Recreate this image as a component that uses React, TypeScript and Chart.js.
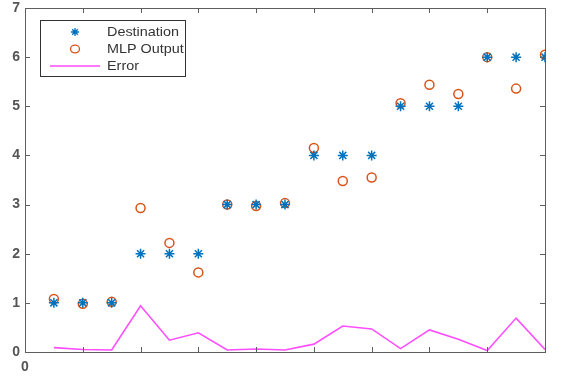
import React, { useEffect, useRef } from "react";
import { Chart, registerables } from "chart.js";

Chart.register(...registerables);

const xValues = [1, 2, 3, 4, 5, 6, 7, 8, 9, 10, 11, 12, 13, 14, 15, 16, 17, 18];
const destination = [1, 1, 1, 2, 2, 2, 3, 3, 3, 4, 4, 4, 5, 5, 5, 6, 6, 6];
const mlpOutput = [1.08, 0.98, 1.02, 2.93, 2.22, 1.62, 3.0, 2.97, 3.03, 4.15, 3.48, 3.55, 5.06, 5.44, 5.25, 6.0, 5.36, 6.05];
const errorValues = [0.09, 0.05, 0.04, 0.94, 0.24, 0.39, 0.04, 0.06, 0.04, 0.16, 0.53, 0.47, 0.07, 0.45, 0.26, 0.03, 0.69, 0.05];
const yTicks = [0, 1, 2, 3, 4, 5, 6, 7];
const xTicks = [0, 2, 4, 6, 8, 10, 12, 14, 16, 18];
const seriesLabels = ["Destination", "MLP Output", "Error"];

const AXIS_COLOR = "#5e5e5e";
const TEXT_COLOR = "#333333";
const TICK_COLOR = "#555555";
const FONT = "Liberation Sans, Arial, sans-serif";

const boxPlugin = {
  id: "matlabBox",
  afterDatasetsDraw(chart: any) {
    const { ctx, chartArea } = chart;
    const xs = chart.scales.x;
    const ys = chart.scales.y;
    ctx.save();
    ctx.strokeStyle = AXIS_COLOR;
    ctx.lineWidth = 1;
    ctx.strokeRect(chartArea.left + 0.5, chartArea.top + 0.5, chartArea.right - chartArea.left, chartArea.bottom - chartArea.top);
    const tl = 5;
    ctx.beginPath();
    xTicks.forEach((v) => {
      const px = Math.round(xs.getPixelForValue(v)) + 0.5;
      ctx.moveTo(px, chartArea.bottom);
      ctx.lineTo(px, chartArea.bottom - tl);
      ctx.moveTo(px, chartArea.top);
      ctx.lineTo(px, chartArea.top + tl);
    });
    yTicks.forEach((v) => {
      const py = Math.round(ys.getPixelForValue(v)) + 0.5;
      ctx.moveTo(chartArea.left, py);
      ctx.lineTo(chartArea.left + tl, py);
      ctx.moveTo(chartArea.right, py);
      ctx.lineTo(chartArea.right - tl, py);
    });
    ctx.stroke();

    // legend
    const bx = 40.5, by = 20.5, bw = 145, bh = 56;
    ctx.fillStyle = "#ffffff";
    ctx.fillRect(bx, by, bw, bh);
    ctx.save();
    ctx.beginPath();
    ctx.rect(bx, by, bw, bh);
    ctx.clip();
    ctx.font = "12px " + FONT;
    ctx.textBaseline = "middle";
    const rows = [32, 49, 66];
    chart.data.datasets.forEach((ds: any, i: number) => {
      const y = rows[i];
      const mx = 75;
      if (i === 0) {
        ctx.strokeStyle = ds.borderColor;
        ctx.lineWidth = 1.3;
        const r = 4;
        ctx.beginPath();
        for (let k = 0; k < 4; k++) {
          const a = (k * Math.PI) / 4;
          ctx.moveTo(mx - r * Math.cos(a), y - r * Math.sin(a));
          ctx.lineTo(mx + r * Math.cos(a), y + r * Math.sin(a));
        }
        ctx.stroke();
      } else if (i === 1) {
        ctx.strokeStyle = ds.borderColor;
        ctx.lineWidth = 1.3;
        ctx.beginPath();
        ctx.ellipse(mx, y, 4.5, 3.8, 0, 0, Math.PI * 2);
        ctx.stroke();
      } else {
        ctx.strokeStyle = ds.borderColor;
        ctx.lineWidth = 1.3;
        ctx.beginPath();
        ctx.moveTo(50, y);
        ctx.lineTo(100, y);
        ctx.stroke();
      }
      ctx.save();
      ctx.translate(107, y + 0.5);
      ctx.scale(1.2, 1);
      ctx.fillStyle = TEXT_COLOR;
      ctx.fillText(ds.label, 0, 0);
      ctx.restore();
    });
    ctx.restore();
    ctx.strokeStyle = "#333333";
    ctx.lineWidth = 1;
    ctx.strokeRect(bx, by, bw, bh);
    ctx.restore();
  },
};

export default function App() {
  const ref = useRef<HTMLCanvasElement | null>(null);
  useEffect(() => {
    document.body.style.margin = "0";
    const canvas = ref.current;
    if (!canvas) return;
    const mk = (arr: number[]) => arr.map((y, i) => ({ x: xValues[i], y }));
    const chart = new Chart(canvas, {
      type: "scatter",
      data: {
        datasets: [
          {
            label: seriesLabels[0],
            data: mk(destination),
            pointStyle: "star",
            pointRadius: 5,
            borderColor: "#0072BD",
            backgroundColor: "#0072BD",
            borderWidth: 1.5,
            showLine: false,
          },
          {
            label: seriesLabels[1],
            data: mk(mlpOutput),
            pointStyle: "circle",
            pointRadius: 4.5,
            borderColor: "#D95319",
            backgroundColor: "rgba(0,0,0,0)",
            borderWidth: 1.5,
            showLine: false,
          },
          {
            label: seriesLabels[2],
            data: mk(errorValues),
            showLine: true,
            pointRadius: 0,
            borderColor: "#FF4DFF",
            backgroundColor: "#FF4DFF",
            borderWidth: 1.6,
            tension: 0,
          },
        ],
      },
      options: {
        animation: false,
        responsive: false,
        layout: { padding: { top: 8, right: 32, left: 0, bottom: 0 } },
        plugins: { legend: { display: false }, tooltip: { enabled: false } },
        scales: {
          x: {
            type: "linear",
            min: 0,
            max: 18,
            grid: { display: false, drawTicks: false },
            border: { display: false },
            afterBuildTicks: (s: any) => {
              s.ticks = xTicks.map((v) => ({ value: v }));
            },
            afterFit: (s: any) => {
              s.height = 35;
              s.paddingLeft = 0;
              s.paddingRight = 0;
            },
            ticks: {
              autoSkip: false,
              maxRotation: 0,
              padding: 7,
              color: TICK_COLOR,
              font: { family: FONT, size: 14, weight: "bold" },
              callback: (v: any) => (v === 0 ? "0" : ""),
            },
          },
          y: {
            type: "linear",
            min: 0,
            max: 7,
            grid: { display: false, drawTicks: false },
            border: { display: false },
            afterBuildTicks: (s: any) => {
              s.ticks = yTicks.map((v) => ({ value: v }));
            },
            afterFit: (s: any) => {
              s.width = 25;
              s.paddingTop = 0;
              s.paddingBottom = 0;
            },
            ticks: {
              autoSkip: false,
              padding: 5,
              color: TICK_COLOR,
              font: { family: FONT, size: 14, weight: "bold" },
            },
          },
        },
      },
      plugins: [boxPlugin],
    } as any);
    return () => chart.destroy();
  }, []);
  return <canvas ref={ref} width={577} height={387} style={{ display: "block" }} />;
}
